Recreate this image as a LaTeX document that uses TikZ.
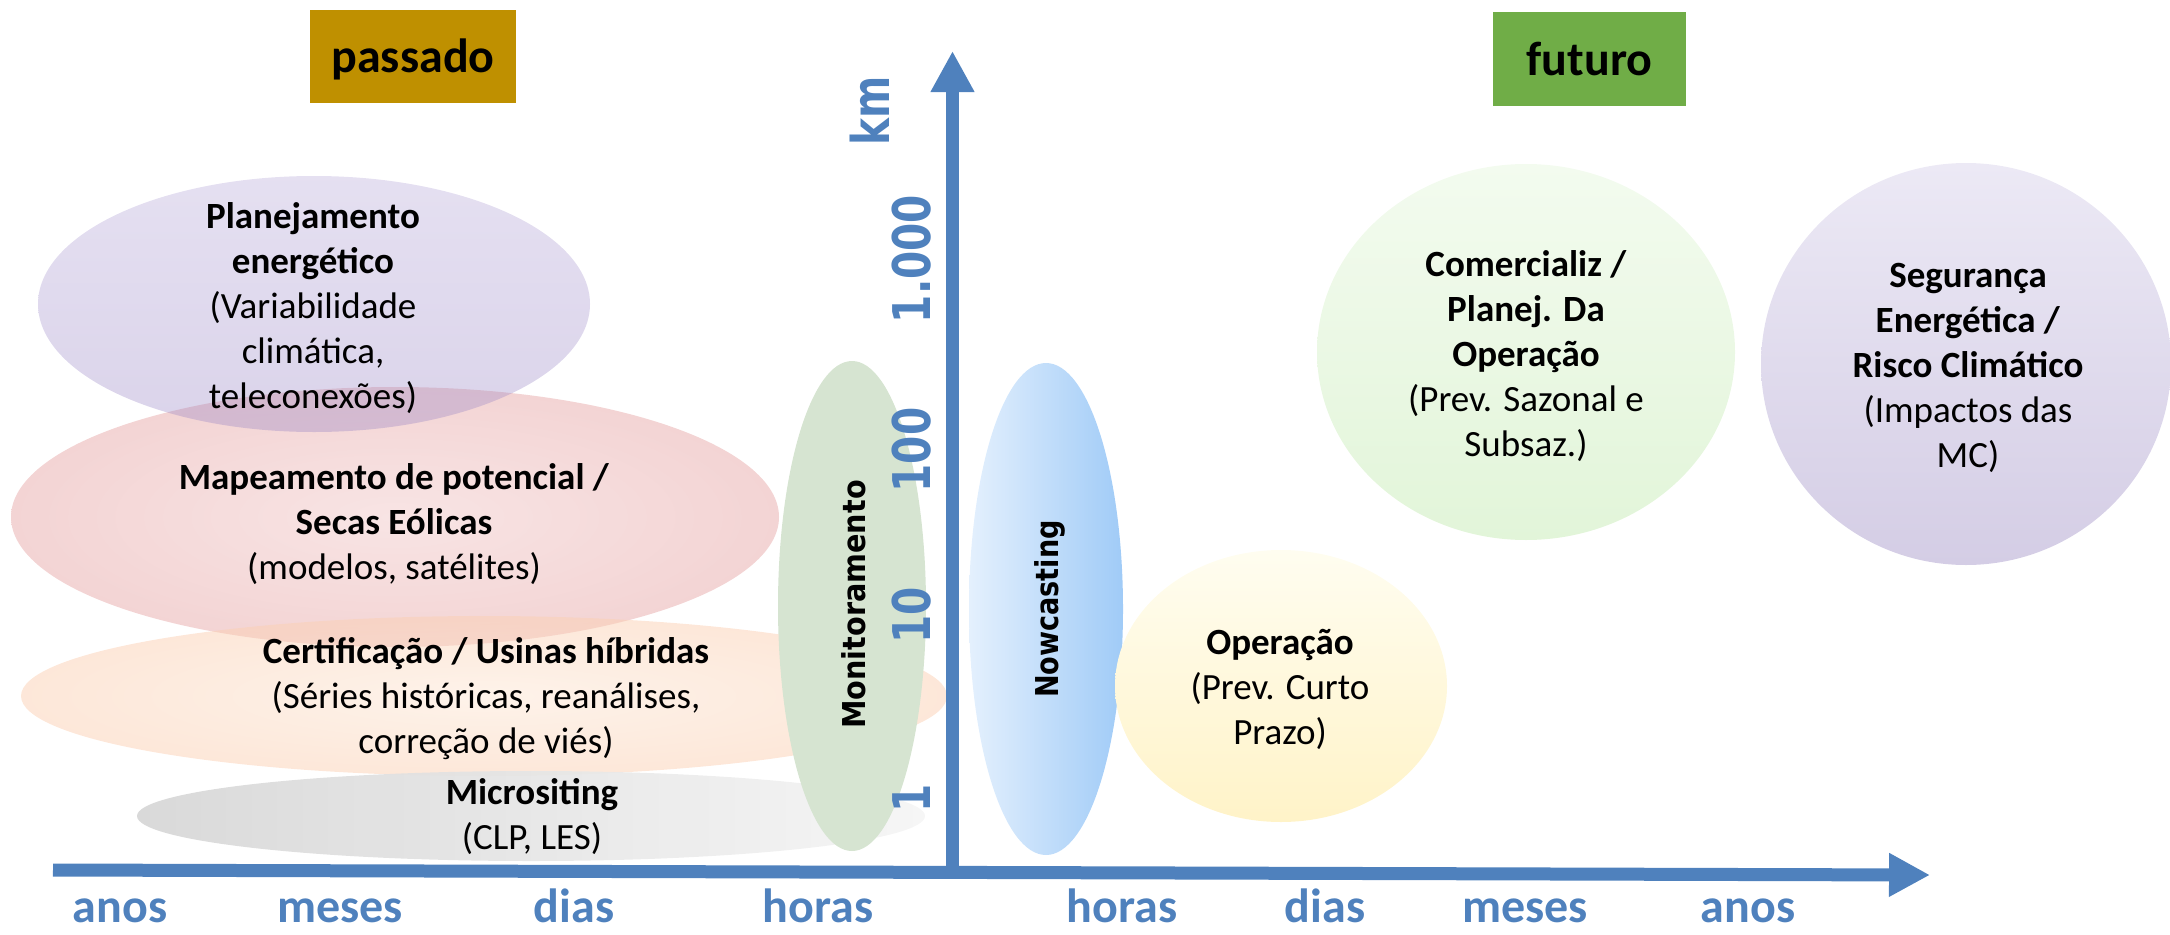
\documentclass[tikz,border=0pt]{standalone}
\usepackage{fontspec}
\usepackage{graphicx}
\setmainfont{Carlito}
\newfontfamily\dejavu{DejaVu Sans}
\usetikzlibrary{arrows.meta,shapes.geometric}
\definecolor{axisblue}{HTML}{4F81BD}
\definecolor{pascol}{HTML}{BF9000}
\definecolor{futcol}{HTML}{70AD47}
\definecolor{redin}{RGB}{238,188,188}
\definecolor{redout}{RGB}{212,107,107}
\definecolor{peachin}{RGB}{253,231,213}
\definecolor{peachout}{RGB}{249,185,145}
\definecolor{plantop}{RGB}{180,165,215}
\definecolor{planbot}{RGB}{150,130,195}
\definecolor{grayl}{RGB}{214,214,214}
\definecolor{grayr}{RGB}{245,245,245}
\definecolor{monitcol}{RGB}{214,228,209}
\definecolor{nowl}{RGB}{228,240,253}
\definecolor{nowr}{RGB}{160,203,247}
\definecolor{opertop}{RGB}{255,253,240}
\definecolor{operbot}{RGB}{255,243,200}
\definecolor{comtop}{RGB}{243,251,239}
\definecolor{combot}{RGB}{226,245,217}
\definecolor{segtop}{RGB}{236,233,245}
\definecolor{segbot}{RGB}{212,205,229}
\pgfdeclareradialshading{redrad}{\pgfpoint{0bp}{0bp}}{color(0bp)=(redin); color(50bp)=(redout)}
\pgfdeclareradialshading{peachrad}{\pgfpoint{0bp}{0bp}}{color(0bp)=(peachin); color(50bp)=(peachout)}
\begin{document}
\begin{tikzpicture}[x=1pt,y=-1pt,
  blob/.style={ellipse, draw=none, inner sep=0pt, outer sep=0pt},
  body/.style={align=center, font=\fontsize{37}{45}\selectfont, text=black, inner sep=0pt},
  xlab/.style={text=axisblue, font=\fontsize{48}{56}\selectfont\bfseries, inner sep=0pt, anchor=base},
  ylab/.style={text=axisblue, font=\dejavu\bfseries\fontsize{52}{60}\selectfont, rotate=90, anchor=base, inner sep=0pt},
  vlab/.style={text=black, font=\dejavu\bfseries\fontsize{31.5}{38}\selectfont, rotate=90, anchor=base, inner sep=0pt},
  axisline/.style={line width=13pt, draw=axisblue, -{Triangle[width=41pt,length=41pt]}},
  tagbox/.style={inner sep=0pt, font=\fontsize{48}{56}\selectfont\bfseries, text=black, minimum width=#1, minimum height=93pt, text depth=10pt}
]
\useasboundingbox (0,0) rectangle (2170,934);
% ellipses
\node[blob, shade, shading=redrad, fill opacity=0.4, minimum width=768pt, minimum height=260pt] (map) at (395,517) {};
\node[blob, top color=plantop, bottom color=planbot, fill opacity=0.35, minimum width=552pt, minimum height=256pt] (plan) at (314,304) {};
\node[blob, shade, shading=peachrad, fill opacity=0.5, minimum width=926pt, minimum height=160pt] (cert) at (484,696) {};
\node[blob, left color=grayl, right color=grayr, fill opacity=0.92, minimum width=788pt, minimum height=90pt] (micro) at (531,816) {};
\node[blob, fill=monitcol, minimum width=148pt, minimum height=490pt] (monit) at (852,606) {};
\node[blob, left color=nowl, right color=nowr, minimum width=154pt, minimum height=492pt] (nowc) at (1046,609) {};
\node[blob, top color=opertop, bottom color=operbot, minimum width=332pt, minimum height=272pt] (oper) at (1281,686) {};
\node[blob, top color=comtop, bottom color=combot, minimum width=418pt, minimum height=376pt] (com) at (1526,352) {};
\node[blob, top color=segtop, bottom color=segbot, minimum width=410pt, minimum height=402pt] (seg) at (1966,364) {};
% title boxes
\node[tagbox=206pt, fill=pascol, text height=41pt] (pas) at (413,56.5) {passado};
\node[tagbox=193pt, fill=futcol, text height=42pt] (fut) at (1589.5,59) {futuro};
% axes
\coordinate (xo) at (53,870);
\coordinate (xe) at (1930,875);
\coordinate (yo) at (952.5,877);
\coordinate (ye) at (952.5,51);
\draw[axisline] (xo) -- (xe);
\draw[axisline] (yo) -- (ye);
% y labels
\node[ylab] (km) at (889,111) {\scalebox{0.78}[1]{km}};
\node[ylab] (y1000) at (930,259) {\scalebox{0.78}[1]{1.000}};
\node[ylab] (y100) at (930,450) {\scalebox{0.78}[1]{100}};
\node[ylab] (y10) at (930,615) {\scalebox{0.78}[1]{10}};
\node[ylab] (y1) at (930,798) {\scalebox{0.78}[1]{1}};
% x labels
\node[xlab] (xa1) at (120,922) {anos};
\node[xlab] (xm1) at (340,922) {meses};
\node[xlab] (xd1) at (574,922) {dias};
\node[xlab] (xh1) at (818,922) {horas};
\node[xlab] (xh2) at (1122,922) {horas};
\node[xlab] (xd2) at (1325,922) {dias};
\node[xlab] (xm2) at (1525,922) {meses};
\node[xlab] (xa2) at (1748,922) {anos};
% vertical labels
\node[vlab] (monittxt) at (865,604.5) {\scalebox{0.91}[1]{Monitoramento}};
\node[vlab] (nowctxt) at (1058,609) {\scalebox{0.86}[1]{Nowcasting}};
% texts
\node[body] (plantxt) at (313,308) {\textbf{Planejamento}\\\textbf{energético}\\(Variabilidade\\climática,\\teleconexões)};
\node[body] (maptxt) at (394,524) {\textbf{Mapeamento de potencial /}\\\textbf{Secas Eólicas}\\(modelos, satélites)};
\node[body] (certtxt) at (486,699) {\textbf{Certificação / Usinas híbridas}\\(Séries históricas, reanálises,\\correção de viés)};
\node[body] (microtxt) at (532,816.5) {\textbf{Micrositing}\\(CLP, LES)};
\node[body] (comtxt) at (1526,356) {\textbf{Comercializ /}\\\textbf{Planej. Da}\\\textbf{Operação}\\(Prev. Sazonal e\\Subsaz.)};
\node[body] (segtxt) at (1968,368) {\textbf{Segurança}\\\textbf{Energética /}\\\textbf{Risco Climático}\\(Impactos das\\MC)};
\node[body] (opertxt) at (1280,689.5) {\textbf{Operação}\\(Prev. Curto\\Prazo)};
\end{tikzpicture}
\end{document}
